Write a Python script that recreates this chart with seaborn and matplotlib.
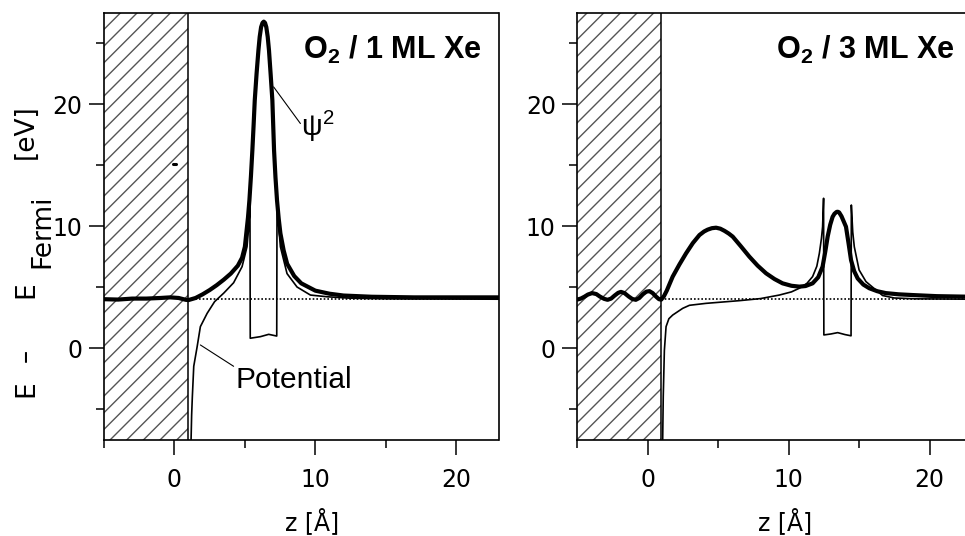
import numpy as np
import pandas as pd
import matplotlib
matplotlib.use("Agg")
import matplotlib.pyplot as plt
import seaborn as sns

# ---------------- data ----------------
# Left panel: O2 / 1 ML Xe
psi_l_x = [-5.0, -4.0, -3.0, -2.0, -1.0, -0.3, 0.3, 0.8, 1.0, 1.5, 2.0, 2.5, 3.0, 3.5,
           4.0, 4.5, 4.8, 5.0, 5.1, 5.22, 5.32, 5.43, 5.53, 5.62, 5.70, 5.83, 5.96, 6.05,
           6.15, 6.25, 6.34, 6.43, 6.52, 6.62, 6.71, 6.83, 6.95, 7.07, 7.17, 7.28, 7.4,
           7.52, 7.75, 8.0, 8.5, 9.0, 10.0, 11.0, 12.0, 14.0, 17.0, 23.0]
psi_l_y = [4.0, 3.97, 4.05, 4.05, 4.1, 4.15, 4.1, 3.95, 3.93, 4.1, 4.4, 4.75, 5.15, 5.6,
           6.1, 6.75, 7.4, 8.3, 9.4, 10.7, 12.1, 14.1, 16.2, 18.3, 20.3, 22.5, 24.4, 25.5,
           26.3, 26.65, 26.75, 26.65, 26.3, 25.5, 24.4, 22.4, 20.3, 16.2, 14.0, 12.1, 10.6,
           9.4, 8.0, 6.9, 5.9, 5.3, 4.7, 4.45, 4.3, 4.2, 4.15, 4.15]

pot_l_x = [1.18, 1.22, 1.27, 1.37, 1.61, 1.84, 2.32, 2.85, 3.5, 4.2, 4.8, 5.15, 5.27,
           5.36, 5.38, 6.1, 6.69, 7.26, 7.28, 7.4, 7.52, 7.99, 8.7, 9.65, 10.83, 12.5,
           15.0, 23.0]
pot_l_y = [-7.5, -5.5, -4.0, -1.5, 0.1, 1.75, 2.84, 3.8, 4.5, 5.35, 6.67, 8.3, 9.9,
           11.6, 0.8, 0.93, 1.12, 0.98, 11.8, 10.0, 8.3, 6.1, 5.0, 4.34, 4.2, 4.08,
           4.03, 4.0]

# Right panel: O2 / 3 ML Xe
psi_r_x = [-5.0, -4.75, -4.5, -4.25, -3.95, -3.65, -3.4, -3.1, -2.85, -2.6, -2.35, -2.1,
           -1.9, -1.65, -1.35, -1.1, -0.85, -0.6, -0.35, -0.1, 0.12, 0.35, 0.6, 0.8, 0.95,
           1.15, 1.35, 1.55, 1.77, 2.25, 2.72, 3.2, 3.67, 4.0, 4.25, 4.55, 4.85, 5.15,
           5.45, 5.75, 6.03, 6.6, 7.21, 7.8, 8.4, 9.0, 9.57, 10.2, 10.76, 11.2, 11.7,
           12.1, 12.41, 12.6, 12.77, 12.95, 13.12, 13.25, 13.4, 13.48, 13.58, 13.75, 13.9,
           14.07, 14.25, 14.43, 14.65, 14.9, 15.3, 15.72, 16.3, 16.9, 17.8, 18.8, 20.5, 23.0]
psi_r_y = [3.97, 4.05, 4.2, 4.38, 4.5, 4.42, 4.22, 4.03, 3.95, 4.05, 4.3, 4.52,
           4.6, 4.5, 4.22, 4.02, 3.95, 4.1, 4.4, 4.62, 4.66, 4.5, 4.2, 4.0, 3.96,
           4.25, 4.7, 5.25, 5.85, 6.85, 7.76, 8.6, 9.26, 9.55, 9.7, 9.82, 9.86, 9.78,
           9.6, 9.38, 9.13, 8.35, 7.49, 6.75, 6.12, 5.65, 5.3, 5.1, 5.03, 5.08, 5.3,
           5.8, 6.67, 7.9, 9.13, 10.1, 10.75, 11.0, 11.15, 11.17, 11.12, 10.8, 10.4,
           9.94, 8.6, 7.2, 6.3, 5.7, 5.2, 4.9, 4.65, 4.5, 4.4, 4.34, 4.25, 4.2]

pot_r_x = [1.06, 1.1, 1.18, 1.3, 1.5, 1.77, 2.48, 2.96, 4.14, 6.5, 8.0, 9.34, 10.2, 10.76,
           11.3, 11.7, 12.0, 12.18, 12.33, 12.41, 12.48, 12.5, 13.0, 13.48, 14.0, 14.43,
           14.45, 14.55, 14.66, 15.0, 15.49, 16.2, 16.67, 17.5, 19.0, 23.0]
pot_r_y = [-7.5, -4.0, -0.2, 1.75, 2.4, 2.7, 3.25, 3.5, 3.66, 3.88, 4.05, 4.34, 4.6, 4.9,
           5.3, 5.85, 6.7, 7.76, 9.0, 9.94, 12.27, 1.07, 1.15, 1.26, 1.1, 1.0,
           11.72, 9.5, 8.3, 6.4, 5.44, 4.75, 4.3, 4.1, 4.03, 4.0]

vacuum_level = 4.0
metal_edge = 0.95
x_limits = (-5, 23)
y_limits = (-7.5, 27.5)
x_major = [0, 10, 20]
x_minor = [-5, 5, 15]
y_major = [0, 10, 20]
y_minor = [-5, 5, 15, 25]
panel_titles = ["1 ML Xe", "3 ML Xe"]
psi_label_line_x = [7.04, 8.94]
psi_label_line_y = [21.4, 18.4]
pot_label_line_x = [1.84, 4.2]
pot_label_line_y = [0.25, -1.5]
speck_x = [-0.12, 0.14]
speck_y = [15.1, 15.1]

# ---------------- style ----------------
sns.set_style("ticks")
plt.rcParams.update({
    "font.family": ["DejaVu Sans"],
    "mathtext.fontset": "custom",
    "mathtext.rm": "Liberation Sans",
    "mathtext.it": "Liberation Sans:italic",
    "mathtext.bf": "Liberation Sans:bold",
    "hatch.linewidth": 1.0,
    "hatch.color": "#555555",
    "axes.linewidth": 1.2,
    "axes.edgecolor": "black",
    "text.color": "black",
    "axes.labelcolor": "black",
    "xtick.color": "black",
    "ytick.color": "black",
    "xtick.labelcolor": "black",
    "ytick.labelcolor": "black",
})

W, H = 965, 536
fig = plt.figure(figsize=(W / 100, H / 100), dpi=100)
ax_l = fig.add_axes([104 / W, 1 - 439.5 / H, 394.5 / W, 427 / H])
ax_r = fig.add_axes([577.3 / W, 1 - 439.5 / H, 394.5 / W, 427 / H])

panels = [
    (ax_l, psi_l_x, psi_l_y, pot_l_x, pot_l_y),
    (ax_r, psi_r_x, psi_r_y, pot_r_x, pot_r_y),
]

for i, (ax, px, py, vx, vy) in enumerate(panels):
    ax.axvspan(x_limits[0], metal_edge, facecolor="white", edgecolor="#555555",
               hatch="//", lw=0, zorder=0)
    ax.axvline(metal_edge, color="black", lw=1.1, zorder=1)
    ax.plot([metal_edge, x_limits[1]], [vacuum_level, vacuum_level], color="black",
            lw=1.2, ls=(0, (1, 1.2)), zorder=2)
    df_pot = pd.DataFrame({"z": vx, "E": vy})
    df_psi = pd.DataFrame({"z": px, "E": py})
    sns.lineplot(data=df_pot, x="z", y="E", sort=False, estimator=None, color="black",
                 lw=1.2, ax=ax, zorder=3)
    sns.lineplot(data=df_psi, x="z", y="E", sort=False, estimator=None, color="black",
                 lw=3.0, ax=ax, zorder=4, solid_joinstyle="round", solid_capstyle="round")

    ax.set_xlim(*x_limits)
    ax.set_ylim(*y_limits)
    ax.set_xticks(x_major)
    ax.set_xticks(x_minor, minor=True)
    ax.set_yticks(y_major)
    ax.set_yticks(y_minor, minor=True)
    ax.tick_params(which="major", direction="out", length=10.5, width=1.1,
                   labelsize=17, color="black", labelcolor="black")
    ax.tick_params(which="minor", direction="out", length=5.5, width=1.1, color="black")
    ax.tick_params(axis="x", which="major", pad=10)
    ax.tick_params(axis="y", which="major", pad=5)
    for sp in ax.spines.values():
        sp.set_visible(True)
        sp.set_linewidth(1.2)
        sp.set_color("black")
    ax.set_ylabel("")
    ax.set_xlabel("z [Å]", fontsize=17, color="black")
    ax.xaxis.label.set_va("baseline")
    ax.xaxis.set_label_coords(0.527, -0.212)

    ax.text(21.8, 23.7, r"O$_\mathbf{2}$ / " + panel_titles[i], ha="right", va="baseline",
            fontsize=22, fontweight="bold", family="Liberation Sans", color="black",
            zorder=5)

# annotations left panel
ax_l.plot(psi_label_line_x, psi_label_line_y, color="black", lw=0.8, zorder=5)
ax_l.text(9.0, 17.4, r"ψ$^2$", ha="left", va="baseline", fontsize=21,
          family="Liberation Sans", color="black")
ax_l.plot(pot_label_line_x, pot_label_line_y, color="black", lw=0.8, zorder=5)
ax_l.text(4.3, -2.65, "Potential", ha="left", va="center", fontsize=21.5,
          family="Liberation Sans", color="black")
ax_l.plot(speck_x, speck_y, color="black", lw=2.2, zorder=5)

# y-axis label pieces (E – E_Fermi [eV]), placed as in the reference
ylab = [("E", 33, 389), ("–", 33, 355), ("E", 33, 290), ("Fermi", 49, 231), ("[eV]", 33, 132)]
for txt, bx, cy in ylab:
    fig.text(bx / W, 1 - cy / H, txt, rotation=90, rotation_mode="anchor",
             ha="center", va="baseline", fontsize=19, color="black")

fig.savefig("out.png", dpi=100)
